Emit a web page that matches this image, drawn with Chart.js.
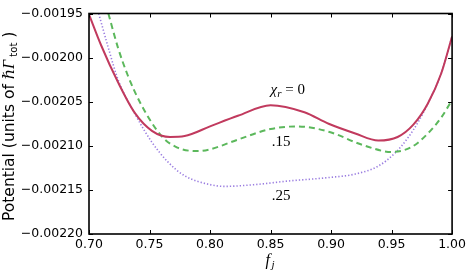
<!DOCTYPE html>
<html>
<head>
<meta charset="utf-8">
<script src="https://cdn.jsdelivr.net/npm/chart.js@4"></script>
<style>
  body { margin: 0; background: #fff; }
  canvas { display: block; }
</style>
</head>
<body>
<canvas id="chart" width="469" height="273"></canvas>
<script>
// values (potential in units of 1e-5)
const chi0F = [0.700, 0.710, 0.724, 0.738, 0.752, 0.767, 0.779, 0.800, 0.823, 0.850, 0.878, 0.898, 0.920, 0.939, 0.955, 0.968, 0.980, 0.991, 1.000];
const chi0V = [-195.1, -198.6, -202.8, -206.3, -208.3, -209.0, -208.9, -207.8, -206.6, -205.4, -206.2, -207.5, -208.6, -209.4, -209.0, -207.6, -205.2, -201.8, -197.6];

const chi15F = [0.716, 0.724, 0.732, 0.743, 0.760, 0.773, 0.790, 0.800, 0.823, 0.850, 0.872, 0.898, 0.926, 0.950, 0.967, 0.980, 0.991, 1.000];
const chi15V = [-195.0, -198.9, -202.0, -205.3, -208.9, -210.2, -210.6, -210.4, -209.3, -208.1, -207.8, -208.4, -209.9, -210.7, -210.1, -208.6, -206.8, -204.8];

const chi25F = [0.708, 0.716, 0.724, 0.738, 0.752, 0.765, 0.779, 0.800, 0.812, 0.837, 0.864, 0.898, 0.920, 0.939, 0.953, 0.964, 0.972, 0.980, 0.991, 1.000];
const chi25V = [-195.0, -198.9, -202.5, -206.4, -209.6, -211.8, -213.4, -214.4, -214.6, -214.4, -214.0, -213.6, -213.2, -212.3, -210.8, -209.0, -207.3, -205.2, -201.8, -197.6];

const xTicks = [0.70, 0.75, 0.80, 0.85, 0.90, 0.95, 1.00];
const yTicks = [-0.00220, -0.00215, -0.00210, -0.00205, -0.00200, -0.00195];

// curve labels: [text, subscript, rest, f, V]
const curveLabels = [
  ['χ', 'r', ' = 0', 0.850, -0.002041],
  ['.15', '', '', 0.851, -0.0021005],
  ['.25', '', '', 0.851, -0.0021609]
];

function toPoints(fs, vs) {
  return fs.map((f, i) => ({ x: f, y: vs[i] * 1e-5 }));
}

const serif = '"Liberation Serif", "DejaVu Serif", serif';
const sans = '"DejaVu Sans", sans-serif';

// frame, inward ticks and text drawn on top of the chart
const decorations = {
  id: 'decorations',
  afterDraw(chart) {
    const ctx = chart.ctx;
    const a = chart.chartArea;
    const xs = chart.scales.x;
    const ys = chart.scales.y;
    ctx.save();
    ctx.strokeStyle = '#000';
    ctx.lineWidth = 1;
    xTicks.forEach(t => {
      const px = Math.round(xs.getPixelForValue(t)) + 0.5;
      ctx.beginPath();
      ctx.moveTo(px, a.bottom); ctx.lineTo(px, a.bottom - 4);
      ctx.moveTo(px, a.top); ctx.lineTo(px, a.top + 4);
      ctx.stroke();
    });
    yTicks.forEach(t => {
      const py = Math.round(ys.getPixelForValue(t)) + 0.5;
      ctx.beginPath();
      ctx.moveTo(a.left, py); ctx.lineTo(a.left + 4, py);
      ctx.moveTo(a.right, py); ctx.lineTo(a.right - 4, py);
      ctx.stroke();
    });
    ctx.lineWidth = 1.6;
    ctx.strokeRect(a.left, a.top, a.right - a.left, a.bottom - a.top);

    // curve labels
    ctx.fillStyle = '#000';
    ctx.textBaseline = 'alphabetic';
    ctx.textAlign = 'left';
    curveLabels.forEach(([main, sub, rest, f, v]) => {
      let x = xs.getPixelForValue(f);
      const y = ys.getPixelForValue(v);
      ctx.font = (main === 'χ' ? 'italic ' : '') + '15px ' + serif;
      ctx.fillText(main, x, y);
      x += ctx.measureText(main).width;
      if (sub) {
        ctx.font = 'italic 11px ' + serif;
        ctx.fillText(sub, x, y + 3);
        x += ctx.measureText(sub).width;
      }
      if (rest) {
        ctx.font = '15px ' + serif;
        ctx.fillText(rest, x, y);
      }
    });

    // x axis label f_j
    const cx = (a.left + a.right) / 2;
    ctx.font = 'italic 16px ' + serif;
    ctx.fillText('f', cx - 5, 265);
    ctx.font = 'italic 11px ' + serif;
    ctx.fillText('j', cx + 1, 268);

    // y axis label
    ctx.translate(14, 221);
    ctx.rotate(-Math.PI / 2);
    let lx = 0;
    const runs = [
      ['Potential (units of ', '15.5px ' + sans, 0],
      ['ℏΓ', 'italic 16px ' + serif, 0],
      [' tot', '10px ' + sans, 3],
      [' )', '15.5px ' + sans, 0]
    ];
    runs.forEach(([txt, font, dy]) => {
      ctx.font = font;
      ctx.fillText(txt, lx, dy);
      lx += ctx.measureText(txt).width;
    });
    ctx.restore();
  }
};

const fmtMinus = s => s.replace('-', '\u2212');

new Chart(document.getElementById('chart'), {
  type: 'line',
  data: {
    datasets: [
      {
        label: 'χr = 0',
        data: toPoints(chi0F, chi0V),
        borderColor: '#c13a5e',
        borderWidth: 2,
        pointRadius: 0,
        cubicInterpolationMode: 'monotone',
        fill: false
      },
      {
        label: '.15',
        data: toPoints(chi15F, chi15V),
        borderColor: '#5cb85c',
        borderWidth: 2,
        borderDash: [6, 4],
        pointRadius: 0,
        cubicInterpolationMode: 'monotone',
        fill: false
      },
      {
        label: '.25',
        data: toPoints(chi25F, chi25V),
        borderColor: '#9a7de0',
        borderWidth: 1.6,
        borderDash: [1.3, 2],
        pointRadius: 0,
        cubicInterpolationMode: 'monotone',
        fill: false
      }
    ]
  },
  options: {
    responsive: false,
    animation: false,
    layout: { padding: { left: 0, right: 15, top: 6, bottom: 0 } },
    plugins: { legend: { display: false }, tooltip: { enabled: false } },
    scales: {
      x: {
        type: 'linear',
        min: 0.70,
        max: 1.00,
        afterFit: s => { s.height = 39; },
        afterBuildTicks: s => { s.ticks = xTicks.map(v => ({ value: v })); },
        grid: { display: false, drawTicks: false },
        border: { display: false },
        ticks: {
          autoSkip: false,
          maxRotation: 0,
          padding: 3,
          color: '#000',
          font: { family: sans, size: 12.5 },
          callback: v => v.toFixed(2)
        }
      },
      y: {
        type: 'linear',
        min: -0.00220,
        max: -0.00195,
        afterFit: s => { s.width = 89; },
        afterBuildTicks: s => { s.ticks = yTicks.map(v => ({ value: v })); },
        grid: { display: false, drawTicks: false },
        border: { display: false },
        ticks: {
          autoSkip: false,
          padding: 6,
          color: '#000',
          font: { family: sans, size: 12.5 },
          callback: v => fmtMinus(v.toFixed(5))
        }
      }
    }
  },
  plugins: [decorations]
});
</script>
</body>
</html>
